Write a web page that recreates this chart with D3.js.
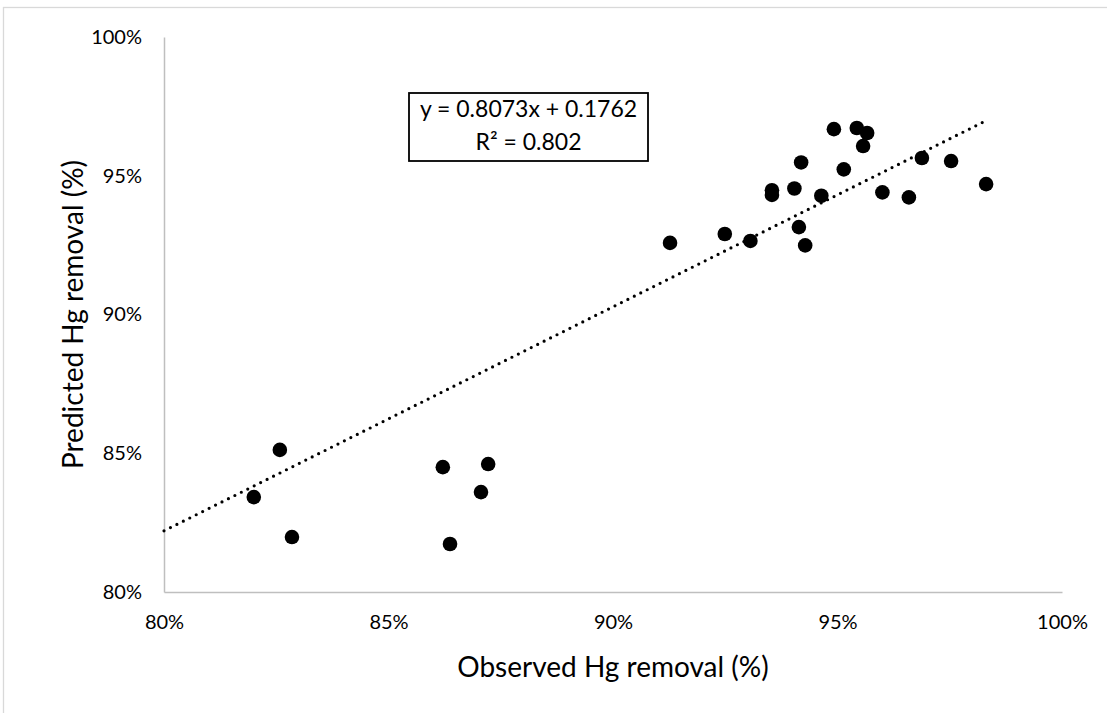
<!DOCTYPE html>
<html>
<head>
<meta charset="utf-8">
<script src="https://cdn.jsdelivr.net/npm/d3@7"></script>
<style>
  html, body { margin: 0; padding: 0; background: #ffffff; }
  svg { display: block; }
  text { font-family: Lato, "Open Sans", sans-serif; fill: #000; }
</style>
</head>
<body>
<svg id="chart" width="1107" height="713"></svg>
<script>
// Observed vs predicted Hg removal (fractions)
const observed = [
  0.8200, 0.8258, 0.8285, 0.8621, 0.8637, 0.8706, 0.8722,
  0.9127, 0.9249, 0.9306, 0.9354, 0.9354, 0.9404, 0.9414,
  0.9428, 0.9419, 0.9464, 0.9514, 0.9492, 0.9543, 0.9566,
  0.9557, 0.9600, 0.9659, 0.9688, 0.9753, 0.9831
];
const predicted = [
  0.8342, 0.8512, 0.8198, 0.8450, 0.8173, 0.8360, 0.8461,
  0.9258, 0.9290, 0.9265, 0.9448, 0.9431, 0.9454, 0.9315,
  0.9249, 0.9548, 0.9428, 0.9523, 0.9668, 0.9672, 0.9654,
  0.9607, 0.9440, 0.9422, 0.9564, 0.9553, 0.9470
];
// Linear trendline parameters
const slope = 0.8073;
const intercept = 0.1762;
const r2 = 0.802;
const xTicks = [0.80, 0.85, 0.90, 0.95, 1.00];
const yTicks = [0.80, 0.85, 0.90, 0.95, 1.00];

const svg = d3.select("#chart");
const plotLeft = 164, plotRight = 1062, plotTop = 37, plotBottom = 592;

const x = d3.scaleLinear().domain([0.80, 1.00]).range([plotLeft, plotRight]);
const y = d3.scaleLinear().domain([0.80, 1.00]).range([plotBottom, plotTop]);
const pct = d3.format(".0%");

// chart border
svg.append("rect")
  .attr("x", 3.5).attr("y", 7.5)
  .attr("width", 1120).attr("height", 720)
  .attr("fill", "none").attr("stroke", "#d9d9d9").attr("stroke-width", 1.3);

// axes
const xAxis = svg.append("g").attr("transform", `translate(0,${plotBottom})`)
  .call(d3.axisBottom(x).tickValues(xTicks).tickFormat(pct).tickSize(0).tickPadding(23));
const yAxis = svg.append("g").attr("transform", `translate(${plotLeft},0)`)
  .call(d3.axisLeft(y).tickValues(yTicks).tickFormat(pct).tickSize(0).tickPadding(22));
[xAxis, yAxis].forEach(g => {
  g.select(".domain").attr("stroke", "#bfbfbf").attr("stroke-width", 1.5);
  g.selectAll("text").style("font-family", "Lato, sans-serif").style("font-size", "20px").attr("fill", "#000");
});
xAxis.selectAll("text").attr("dy", "0.71em");

// trendline
const tx0 = 0.80, tx1 = d3.max(observed);
svg.append("line")
  .attr("x1", x(tx0)).attr("y1", y(slope * tx0 + intercept))
  .attr("x2", x(tx1)).attr("y2", y(slope * tx1 + intercept))
  .attr("stroke", "#000").attr("stroke-width", 3.2)
  .attr("stroke-linecap", "round").attr("stroke-dasharray", "0,7.2");

// points
svg.append("g").selectAll("circle")
  .data(observed.map((o, i) => [o, predicted[i]]))
  .join("circle")
  .attr("cx", d => x(d[0])).attr("cy", d => y(d[1]))
  .attr("r", 7.3).attr("fill", "#000");

// equation box
const eq = svg.append("g");
eq.append("rect").attr("x", 409).attr("y", 93).attr("width", 239).attr("height", 68)
  .attr("fill", "#fff").attr("stroke", "#000").attr("stroke-width", 1.8);
eq.append("text").attr("x", 528.5).attr("y", 117).attr("text-anchor", "middle")
  .style("font-size", "23px").text(`y = ${slope}x + ${intercept}`);
eq.append("text").attr("x", 528.5).attr("y", 150).attr("text-anchor", "middle")
  .style("font-size", "23px").text(`R² = ${r2}`);

// axis titles
svg.append("text").attr("x", (plotLeft + plotRight) / 2).attr("y", 677).attr("text-anchor", "middle")
  .style("font-size", "28px").text("Observed Hg removal (%)");
svg.append("text").attr("transform", `translate(83,${(plotTop + plotBottom) / 2}) rotate(-90)`)
  .attr("text-anchor", "middle").style("font-size", "28px").text("Predicted Hg removal (%)");
</script>
</body>
</html>
